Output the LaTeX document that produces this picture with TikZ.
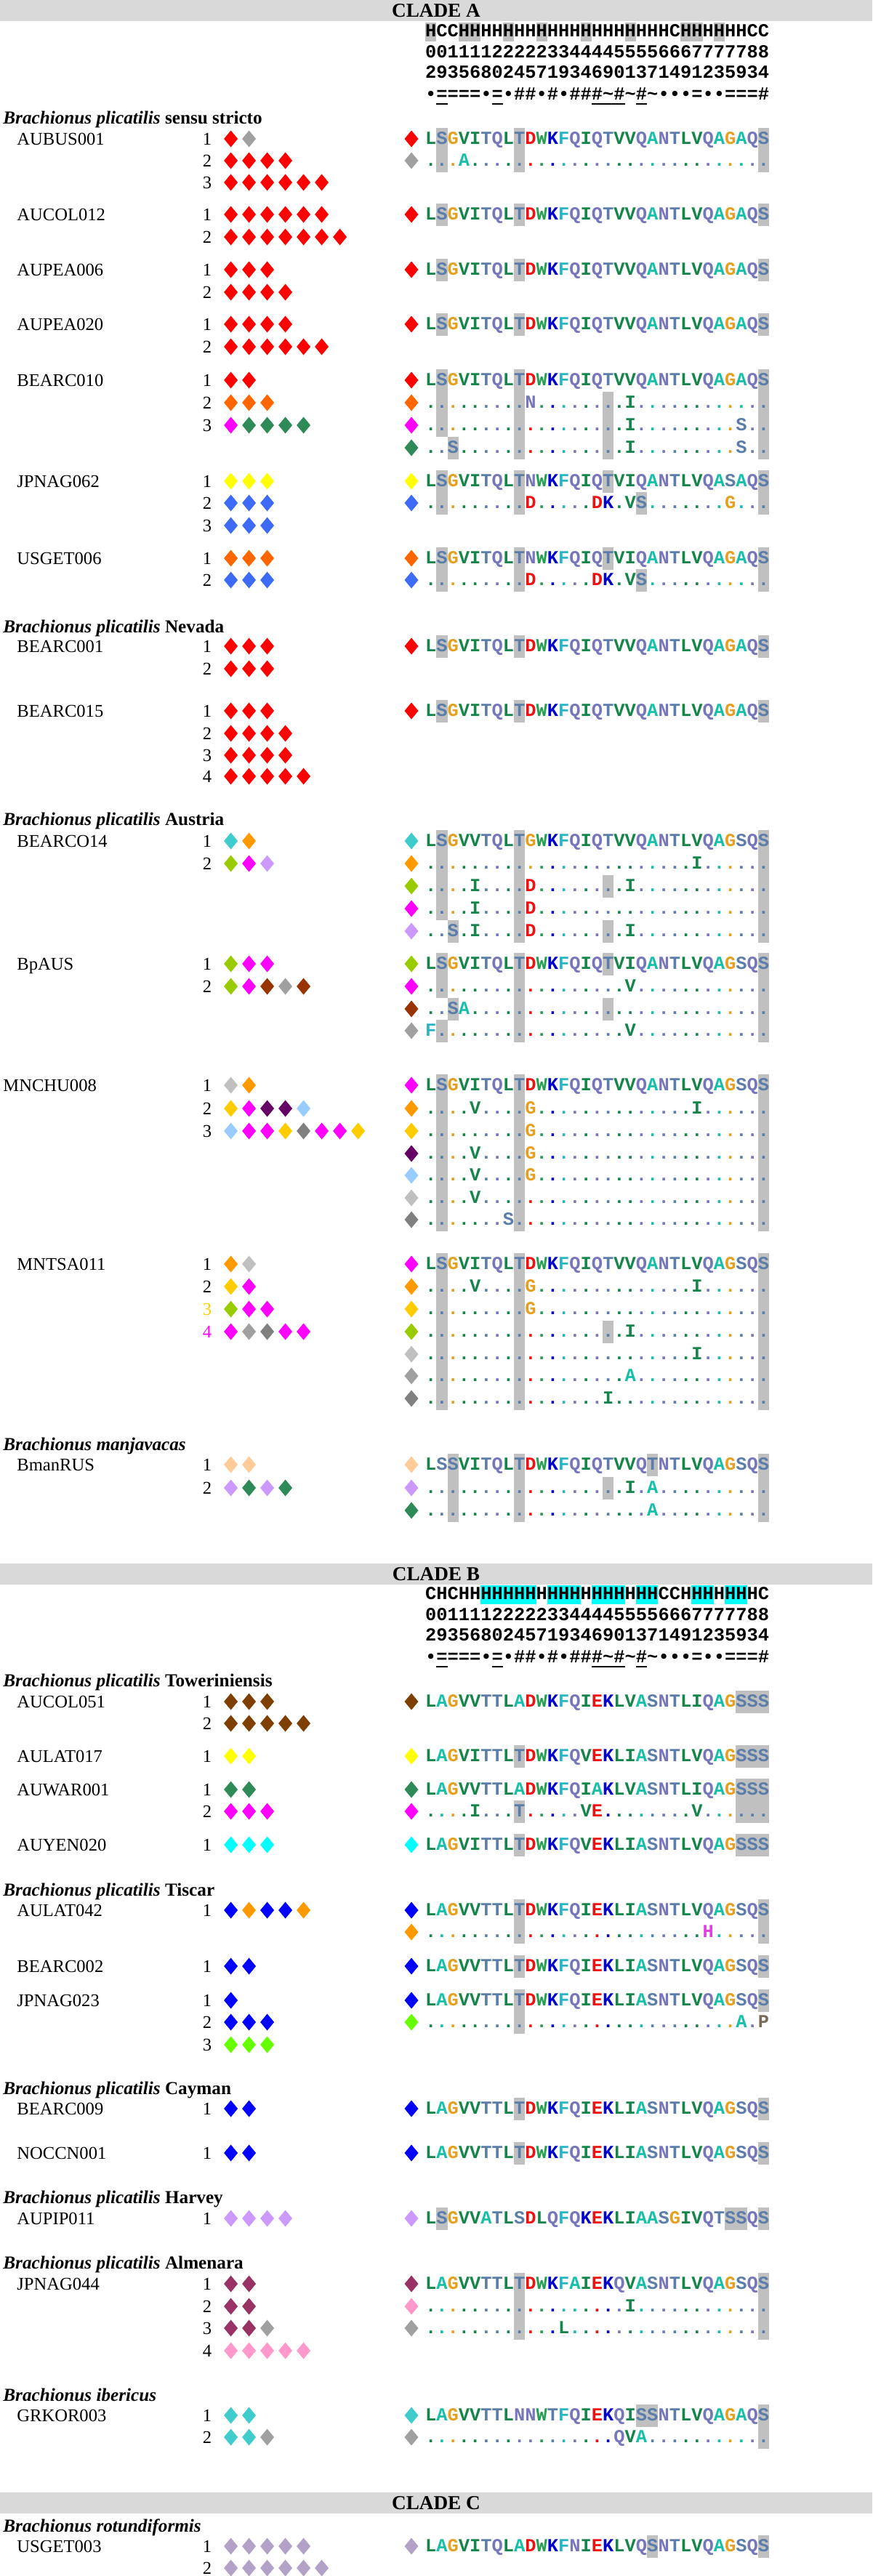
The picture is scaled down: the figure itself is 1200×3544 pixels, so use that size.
\documentclass[tikz,border=0pt]{standalone}
\usepackage{fontspec}
\setmainfont{Liberation Serif}
\newfontfamily\monofont{Liberation Mono}
\usepackage{xstring}
\usepackage{tikz}
\usetikzlibrary{positioning}

% residue colours
\definecolor{resL}{HTML}{15854A}\colorlet{resV}{resL}\colorlet{resI}{resL}\colorlet{resM}{resL}
\definecolor{resW}{HTML}{22A050}
\definecolor{resS}{HTML}{5A7DAA}\colorlet{resT}{resS}
\definecolor{resG}{HTML}{E6A020}
\definecolor{resQ}{HTML}{7676BC}\colorlet{resN}{resQ}
\definecolor{resD}{HTML}{EE1111}\colorlet{resE}{resD}
\definecolor{resK}{HTML}{0000CC}
\definecolor{resF}{HTML}{28B4C4}
\definecolor{resA}{HTML}{14C0A8}
\definecolor{resH}{HTML}{E040E0}
\definecolor{resP}{HTML}{7A6A58}
% haplotype colours
\definecolor{gRed}{HTML}{FF0000}
\definecolor{gGray}{HTML}{A0A0A0}
\definecolor{gOrange}{HTML}{FF6600}
\definecolor{gMagenta}{HTML}{FF00FF}
\definecolor{gSea}{HTML}{2E8B57}
\definecolor{gYellow}{HTML}{FFFF00}
\definecolor{gRoyal}{HTML}{3D6BF5}
\definecolor{gTurq}{HTML}{40CCCC}
\definecolor{gAmber}{HTML}{FF9900}
\definecolor{gLime}{HTML}{99CC00}
\definecolor{gLavender}{HTML}{CC99FF}
\definecolor{gBrown}{HTML}{993300}
\definecolor{gLgray}{HTML}{C0C0C0}
\definecolor{gGold}{HTML}{FFCC00}
\definecolor{gPurple}{HTML}{660066}
\definecolor{gSky}{HTML}{99CCFF}
\definecolor{gDgray}{HTML}{808080}
\definecolor{gPeach}{HTML}{FFCC99}
\definecolor{gChoc}{HTML}{7F3F00}
\definecolor{gCyan}{HTML}{00FFFF}
\definecolor{gBlue}{HTML}{0000FF}
\definecolor{gGreen}{HTML}{66FF00}
\definecolor{gMaroon}{HTML}{993366}
\definecolor{gPink}{HTML}{FF99CC}
\definecolor{gLilac}{HTML}{B3A2C7}
\definecolor{barbg}{HTML}{D9D9D9}
\definecolor{hlgray}{HTML}{C0C0C0}
\definecolor{hlcyan}{HTML}{00FFFF}

\newcommand\seqfont{\monofont\bfseries\fontsize{12.7}{14}\selectfont}
\newcommand\isofont{\fontsize{12.3}{14}\selectfont}
\newcommand\specfont{\bfseries\fontsize{12.6}{14}\selectfont}
\newcommand\cladefont{\bfseries\fontsize{13.6}{15}\selectfont}

\tikzset{
  res/.style={font=\seqfont, text=res#1, inner sep=0pt, anchor=base},
  hdr/.style={font=\seqfont, inner sep=0pt, anchor=base},
  isolate/.style={font=\isofont, inner sep=0pt, anchor=base west},
  species/.style={font=\specfont, inner sep=0pt, anchor=base west},
  rownum/.style={font=\isofont, inner sep=0pt, anchor=base},
  cladename/.style={font=\cladefont, inner sep=0pt},
  gem/.pic={\fill (0,-11.5) -- (9.5,0) -- (0,11.5) -- (-9.5,0) -- cycle;},
}

\def\refA{LSGVITQLTDWKFQIQTVVQANTLVQAGAQS}
\def\refJP{LSGVITQLTNWKFQIQTVIQANTLVQASAQS}
\def\refUS{LSGVITQLTNWKFQIQTVIQANTLVQAGAQS}
\def\refBE{LSGVVTQLTGWKFQIQTVVQANTLVQAGSQS}
\def\refBp{LSGVITQLTDWKFQIQTVIQANTLVQAGSQS}
\def\refMN{LSGVITQLTDWKFQIQTVVQANTLVQAGSQS}
\def\refMan{LSSVITQLTDWKFQIQTVVQTNTLVQAGSQS}
\def\refTw{LAGVVTTLADWKFQIEKLVASNTLIQAGSSS}
\def\refLa{LAGVITTLTDWKFQVEKLIASNTLVQAGSSS}
\def\refWa{LAGVVTTLADWKFQIAKLVASNTLIQAGSSS}
\def\refTi{LAGVVTTLTDWKFQIEKLIASNTLVQAGSQS}
\def\refHa{LSGVVATLSDLQFQKEKLIAASGIVQTSSQS}
\def\refAl{LAGVVTTLTDWKFAIEKQVASNTLVQAGSQS}
\def\refIb{LAGVVTTLNNWTFQIEKQISSNTLVQAGAQS}
\def\refRo{LAGVITQLADWKFNIEKLVQSNTLVQAGSQS}

% column centre
\newcommand\colx[1]{577.4+15.26*#1}
% full sequence
\newcommand\refrow[2]{\foreach \i in {1,...,31}{\StrChar{#2}{\i}[\resch]\node[res=\resch] at ({\colx{\i}},{#1+7}) {\resch};}}
% dots with changes col/residue
\newcommand\mutrow[3]{%
  \foreach \i in {1,...,31}{\IfSubStr{,#3}{,\i/}{}{\StrChar{#2}{\i}[\resch]\node[res=\resch] at ({\colx{\i}},{#1+7}) {.};}}
  \foreach \p/\m in {#3}{\node[res=\m] at ({\colx{\p}},{#1+7}) {\m};}}
% grey column box
\newcommand\hl[4]{\fill[hlgray] ({585+15.26*(#1-1)},{#3-15.5}) rectangle ({585+15.26*#2},{#4+15.5});}
% haplotype number and diamonds
\newcommand\hap[3]{\node[rownum] at (285,{#1+8}) {#2};
  \foreach \c [count=\k] in {#3} \pic[fill=\c] at ({292.6+25*\k},#1) {gem};}
\newcommand\seqgem[2]{\pic[fill=#2] at (566,#1) {gem};}
% header block
\newcommand\hdrblock[4]{%
  \foreach \a/\b in {#4} \fill[#3] ({585+15.26*(\a-1)},{#1-12}) rectangle ({585+15.26*\b},{#1+14});
  \foreach \i in {1,...,31}{\IfSubStr{,#2,}{,\i,}{\def\resch{C}}{\def\resch{H}}\node[hdr] at ({\colx{\i}},{#1+7}) {\resch};}
  \foreach \i in {1,...,31}{\StrChar{0011112222233444455556667777788}{\i}[\resch]\node[hdr] at ({\colx{\i}},{#1+36}) {\resch};
    \StrChar{2935680245719346901371491235934}{\i}[\resch]\node[hdr] at ({\colx{\i}},{#1+64}) {\resch};}
  \foreach \s [count=\i] in {•,=,=,=,=,•,=,•,\#,\#,•,\#,•,\#,\#,\#,\textasciitilde,\#,\textasciitilde,\#,\textasciitilde,•,•,•,=,•,•,=,=,=,\#}
    \node[hdr] at ({\colx{\i}},{#1+94}) {\s};
  \foreach \a/\b in {2/2,7/7,16/18,20/20} \draw[line width=1pt] ({585+15.26*(\a-1)},{#1+100}) -- ({585+15.26*\b},{#1+100});}

\begin{document}
\begin{tikzpicture}[x=0.5pt,y=-0.5pt]
\useasboundingbox (0,0) rectangle (1200,3544);

% ---------------- CLADE A
\fill[barbg] (0,0) rectangle (1200,29);
\node[cladename] (cladeA) at (600,15) {CLADE A};
\hdrblock{43}{2,3,23,30,31}{hlgray}{1/1,4/5,8/8,11/11,15/15,19/19,24/25,27/27}

\node[species] (ssstricto) at (4,170) {\textit{Brachionus plicatilis} sensu stricto};
% AUBUS001
\hl{2}{2}{191}{221}\hl{9}{9}{191}{221}\hl{31}{31}{191}{221}
\node[isolate] (aubus) at (23,199) {AUBUS001};
\hap{191}{1}{gRed,gGray}
\hap{221}{2}{gRed,gRed,gRed,gRed}
\hap{251}{3}{gRed,gRed,gRed,gRed,gRed,gRed}
\seqgem{191}{gRed}\refrow{191}{\refA}
\seqgem{221}{gGray}\mutrow{221}{\refA}{4/A}
% AUCOL012
\hl{2}{2}{295}{295}\hl{9}{9}{295}{295}\hl{31}{31}{295}{295}
\node[isolate] (aucol) at (23,303) {AUCOL012};
\hap{295}{1}{gRed,gRed,gRed,gRed,gRed,gRed}
\hap{326}{2}{gRed,gRed,gRed,gRed,gRed,gRed,gRed}
\seqgem{295}{gRed}\refrow{295}{\refA}
% AUPEA006
\hl{2}{2}{371}{371}\hl{9}{9}{371}{371}\hl{31}{31}{371}{371}
\node[isolate] (aupea6) at (23,379) {AUPEA006};
\hap{371}{1}{gRed,gRed,gRed}
\hap{402}{2}{gRed,gRed,gRed,gRed}
\seqgem{371}{gRed}\refrow{371}{\refA}
% AUPEA020
\hl{2}{2}{446}{446}\hl{9}{9}{446}{446}\hl{31}{31}{446}{446}
\node[isolate] (aupea20) at (23,454) {AUPEA020};
\hap{446}{1}{gRed,gRed,gRed,gRed}
\hap{477}{2}{gRed,gRed,gRed,gRed,gRed,gRed}
\seqgem{446}{gRed}\refrow{446}{\refA}
% BEARC010
\hl{2}{2}{523}{585}\hl{3}{3}{616}{616}\hl{9}{9}{523}{616}\hl{17}{17}{554}{616}\hl{31}{31}{523}{616}
\node[isolate] (bearc10) at (23,531) {BEARC010};
\hap{523}{1}{gRed,gRed}
\hap{554}{2}{gOrange,gOrange,gOrange}
\hap{585}{3}{gMagenta,gSea,gSea,gSea,gSea}
\seqgem{523}{gRed}\refrow{523}{\refA}
\seqgem{554}{gOrange}\mutrow{554}{\refA}{10/N,19/I}
\seqgem{585}{gMagenta}\mutrow{585}{\refA}{19/I,29/S}
\seqgem{616}{gSea}\mutrow{616}{\refA}{3/S,19/I,29/S}
% JPNAG062
\hl{2}{2}{662}{692}\hl{9}{9}{662}{692}\hl{17}{17}{662}{662}\hl{20}{20}{692}{692}\hl{31}{31}{662}{692}
\node[isolate] (jpnag62) at (23,670) {JPNAG062};
\hap{662}{1}{gYellow,gYellow,gYellow}
\hap{692}{2}{gRoyal,gRoyal,gRoyal}
\hap{723}{3}{gRoyal,gRoyal,gRoyal}
\seqgem{662}{gYellow}\refrow{662}{\refJP}
\seqgem{692}{gRoyal}\mutrow{692}{\refJP}{10/D,16/D,17/K,19/V,20/S,28/G}
% USGET006
\hl{2}{2}{768}{798}\hl{9}{9}{768}{798}\hl{17}{17}{768}{768}\hl{20}{20}{798}{798}\hl{31}{31}{768}{798}
\node[isolate] (usget6) at (23,776) {USGET006};
\hap{768}{1}{gOrange,gOrange,gOrange}
\hap{798}{2}{gRoyal,gRoyal,gRoyal}
\seqgem{768}{gOrange}\refrow{768}{\refUS}
\seqgem{798}{gRoyal}\mutrow{798}{\refUS}{10/D,16/D,17/K,19/V,20/S}

\node[species] (nevada) at (4,870) {\textit{Brachionus plicatilis} Nevada};
% BEARC001
\hl{2}{2}{889}{889}\hl{9}{9}{889}{889}\hl{31}{31}{889}{889}
\node[isolate] (bearc1) at (23,897) {BEARC001};
\hap{889}{1}{gRed,gRed,gRed}
\hap{920}{2}{gRed,gRed,gRed}
\seqgem{889}{gRed}\refrow{889}{\refA}
% BEARC015
\hl{2}{2}{978}{978}\hl{9}{9}{978}{978}\hl{31}{31}{978}{978}
\node[isolate] (bearc15) at (23,986) {BEARC015};
\hap{978}{1}{gRed,gRed,gRed}
\hap{1009}{2}{gRed,gRed,gRed,gRed}
\hap{1039}{3}{gRed,gRed,gRed,gRed}
\hap{1068}{4}{gRed,gRed,gRed,gRed,gRed}
\seqgem{978}{gRed}\refrow{978}{\refA}

\node[species] (austria) at (4,1135) {\textit{Brachionus plicatilis} Austria};
% BEARCO14
\hl{2}{2}{1157}{1250}\hl{3}{3}{1281}{1281}\hl{9}{9}{1157}{1281}\hl{17}{17}{1219}{1219}\hl{17}{17}{1281}{1281}\hl{31}{31}{1157}{1281}
\node[isolate] (bearc14) at (23,1165) {BEARCO14};
\hap{1157}{1}{gTurq,gAmber}
\hap{1188}{2}{gLime,gMagenta,gLavender}
\seqgem{1157}{gTurq}\refrow{1157}{\refBE}
\seqgem{1188}{gAmber}\mutrow{1188}{\refBE}{25/I}
\seqgem{1219}{gLime}\mutrow{1219}{\refBE}{5/I,10/D,19/I}
\seqgem{1250}{gMagenta}\mutrow{1250}{\refBE}{5/I,10/D}
\seqgem{1281}{gLavender}\mutrow{1281}{\refBE}{3/S,5/I,10/D,19/I}
% BpAUS
\hl{2}{2}{1326}{1357}\hl{3}{3}{1388}{1388}\hl{2}{2}{1418}{1418}\hl{9}{9}{1326}{1418}\hl{17}{17}{1326}{1326}\hl{17}{17}{1388}{1388}\hl{31}{31}{1326}{1418}
\node[isolate] (bpaus) at (23,1334) {BpAUS};
\hap{1326}{1}{gLime,gMagenta,gMagenta}
\hap{1357}{2}{gLime,gMagenta,gBrown,gGray,gBrown}
\seqgem{1326}{gLime}\refrow{1326}{\refBp}
\seqgem{1357}{gMagenta}\mutrow{1357}{\refBp}{19/V}
\seqgem{1388}{gBrown}\mutrow{1388}{\refBp}{3/S,4/A}
\seqgem{1418}{gGray}\mutrow{1418}{\refBp}{1/F,19/V}
% MNCHU008
\hl{2}{2}{1493}{1678}\hl{9}{9}{1493}{1678}\hl{31}{31}{1493}{1678}
\node[isolate] (mnchu) at (4,1501) {MNCHU008};
\hap{1493}{1}{gLgray,gAmber}
\hap{1525}{2}{gGold,gMagenta,gPurple,gPurple,gSky}
\hap{1556}{3}{gSky,gMagenta,gMagenta,gGold,gDgray,gMagenta,gMagenta,gGold}
\seqgem{1493}{gMagenta}\refrow{1493}{\refMN}
\seqgem{1525}{gAmber}\mutrow{1525}{\refMN}{5/V,10/G,25/I}
\seqgem{1556}{gGold}\mutrow{1556}{\refMN}{10/G}
\seqgem{1587}{gPurple}\mutrow{1587}{\refMN}{5/V,10/G}
\seqgem{1617}{gSky}\mutrow{1617}{\refMN}{5/V,10/G}
\seqgem{1648}{gLgray}\mutrow{1648}{\refMN}{5/V}
\seqgem{1678}{gDgray}\mutrow{1678}{\refMN}{8/S}
% MNTSA011
\hl{2}{2}{1739}{1924}\hl{9}{9}{1739}{1924}\hl{17}{17}{1832}{1832}\hl{31}{31}{1739}{1924}
\node[isolate] (mntsa) at (23,1747) {MNTSA011};
\hap{1739}{1}{gAmber,gLgray}
\hap{1770}{2}{gGold,gMagenta}
\hap{1801}{\textcolor{gGold}{3}}{gLime,gMagenta,gMagenta}
\hap{1832}{\textcolor{gMagenta}{4}}{gMagenta,gGray,gDgray,gMagenta,gMagenta}
\seqgem{1739}{gMagenta}\refrow{1739}{\refMN}
\seqgem{1770}{gAmber}\mutrow{1770}{\refMN}{5/V,10/G,25/I}
\seqgem{1801}{gGold}\mutrow{1801}{\refMN}{10/G}
\seqgem{1832}{gLime}\mutrow{1832}{\refMN}{19/I}
\seqgem{1863}{gLgray}\mutrow{1863}{\refMN}{25/I}
\seqgem{1893}{gGray}\mutrow{1893}{\refMN}{19/A}
\seqgem{1924}{gDgray}\mutrow{1924}{\refMN}{17/I}

\node[species] (manja) at (4,1995) {\textit{Brachionus manjavacas}};
% BmanRUS
\hl{3}{3}{2015}{2078}\hl{9}{9}{2015}{2078}\hl{21}{21}{2015}{2015}\hl{17}{17}{2047}{2047}\hl{31}{31}{2015}{2078}
\node[isolate] (bmanrus) at (23,2023) {BmanRUS};
\hap{2015}{1}{gPeach,gPeach}
\hap{2047}{2}{gLavender,gSea,gLavender,gSea}
\seqgem{2015}{gPeach}\refrow{2015}{\refMan}
\seqgem{2047}{gLavender}\mutrow{2047}{\refMan}{19/I,21/A}
\seqgem{2078}{gSea}\mutrow{2078}{\refMan}{21/A}

% ---------------- CLADE B
\fill[barbg] (0,2151) rectangle (1200,2180);
\node[cladename] (cladeB) at (600,2166) {CLADE B};
\hdrblock{2193}{1,3,22,23,31}{hlcyan}{6/10,12/14,16/18,20/21,25/26,28/29}

\node[species] (tower) at (4,2320) {\textit{Brachionus plicatilis} Toweriniensis};
% AUCOL051
\hl{29}{31}{2341}{2341}
\node[isolate] (aucol51) at (23,2349) {AUCOL051};
\hap{2341}{1}{gChoc,gChoc,gChoc}
\hap{2371}{2}{gChoc,gChoc,gChoc,gChoc,gChoc}
\seqgem{2341}{gChoc}\refrow{2341}{\refTw}
% AULAT017
\hl{9}{9}{2416}{2416}\hl{29}{31}{2416}{2416}
\node[isolate] (aulat17) at (23,2424) {AULAT017};
\hap{2416}{1}{gYellow,gYellow}
\seqgem{2416}{gYellow}\refrow{2416}{\refLa}
% AUWAR001
\hl{29}{31}{2462}{2492}\hl{9}{9}{2492}{2492}
\node[isolate] (auwar) at (23,2470) {AUWAR001};
\hap{2462}{1}{gSea,gSea}
\hap{2492}{2}{gMagenta,gMagenta,gMagenta}
\seqgem{2462}{gSea}\refrow{2462}{\refWa}
\seqgem{2492}{gMagenta}\mutrow{2492}{\refWa}{5/I,9/T,15/V,16/E,25/V}
% AUYEN020
\hl{9}{9}{2538}{2538}\hl{29}{31}{2538}{2538}
\node[isolate] (auyen) at (23,2546) {AUYEN020};
\hap{2538}{1}{gCyan,gCyan,gCyan}
\seqgem{2538}{gCyan}\refrow{2538}{\refLa}

\node[species] (tiscar) at (4,2608) {\textit{Brachionus plicatilis} Tiscar};
% AULAT042
\hl{9}{9}{2628}{2658}\hl{31}{31}{2628}{2658}
\node[isolate] (aulat42) at (23,2636) {AULAT042};
\hap{2628}{1}{gBlue,gAmber,gBlue,gBlue,gAmber}
\seqgem{2628}{gBlue}\refrow{2628}{\refTi}
\seqgem{2658}{gAmber}\mutrow{2658}{\refTi}{26/H}
% BEARC002
\hl{9}{9}{2705}{2705}\hl{31}{31}{2705}{2705}
\node[isolate] (bearc2) at (23,2713) {BEARC002};
\hap{2705}{1}{gBlue,gBlue}
\seqgem{2705}{gBlue}\refrow{2705}{\refTi}
% JPNAG023
\hl{9}{9}{2752}{2782}\hl{31}{31}{2752}{2752}
\node[isolate] (jpnag23) at (23,2760) {JPNAG023};
\hap{2752}{1}{gBlue}
\hap{2782}{2}{gBlue,gBlue,gBlue}
\hap{2813}{3}{gGreen,gGreen,gGreen}
\seqgem{2752}{gBlue}\refrow{2752}{\refTi}
\seqgem{2782}{gGreen}\mutrow{2782}{\refTi}{29/A,31/P}

\node[species] (cayman) at (4,2881) {\textit{Brachionus plicatilis} Cayman};
% BEARC009
\hl{9}{9}{2901}{2901}\hl{31}{31}{2901}{2901}
\node[isolate] (bearc9) at (23,2909) {BEARC009};
\hap{2901}{1}{gBlue,gBlue}
\seqgem{2901}{gBlue}\refrow{2901}{\refTi}
% NOCCN001
\hl{9}{9}{2962}{2962}\hl{31}{31}{2962}{2962}
\node[isolate] (noccn) at (23,2970) {NOCCN001};
\hap{2962}{1}{gBlue,gBlue}
\seqgem{2962}{gBlue}\refrow{2962}{\refTi}

\node[species] (harvey) at (4,3031) {\textit{Brachionus plicatilis} Harvey};
% AUPIP011
\hl{2}{2}{3052}{3052}\hl{28}{29}{3052}{3052}\hl{31}{31}{3052}{3052}
\node[isolate] (aupip) at (23,3060) {AUPIP011};
\hap{3052}{1}{gLavender,gLavender,gLavender,gLavender}
\seqgem{3052}{gLavender}\refrow{3052}{\refHa}

\node[species] (almenara) at (4,3121) {\textit{Brachionus plicatilis} Almenara};
% JPNAG044
\hl{9}{9}{3142}{3203}\hl{31}{31}{3142}{3203}
\node[isolate] (jpnag44) at (23,3150) {JPNAG044};
\hap{3142}{1}{gMaroon,gMaroon}
\hap{3173}{2}{gMaroon,gMaroon}
\hap{3203}{3}{gMaroon,gMaroon,gGray}
\hap{3234}{4}{gPink,gPink,gPink,gPink,gPink}
\seqgem{3142}{gMaroon}\refrow{3142}{\refAl}
\seqgem{3173}{gPink}\mutrow{3173}{\refAl}{19/I}
\seqgem{3203}{gGray}\mutrow{3203}{\refAl}{13/L}

\node[species] (iberic) at (4,3303) {\textit{Brachionus ibericus}};
% GRKOR003
\hl{20}{21}{3323}{3323}\hl{31}{31}{3323}{3353}
\node[isolate] (grkor) at (23,3331) {GRKOR003};
\hap{3323}{1}{gTurq,gTurq}
\hap{3353}{2}{gTurq,gTurq,gGray}
\seqgem{3323}{gTurq}\refrow{3323}{\refIb}
\seqgem{3353}{gGray}\mutrow{3353}{\refIb}{18/Q,19/V,20/A}

% ---------------- CLADE C
\fill[barbg] (0,3429) rectangle (1200,3458);
\node[cladename] (cladeC) at (600,3444) {CLADE C};
\node[species] (rotund) at (4,3483) {\textit{Brachionus rotundiformis}};
% USGET003
\hl{21}{21}{3503}{3503}\hl{31}{31}{3503}{3503}
\node[isolate] (usget3) at (23,3511) {USGET003};
\hap{3503}{1}{gLilac,gLilac,gLilac,gLilac,gLilac}
\hap{3533}{2}{gLilac,gLilac,gLilac,gLilac,gLilac,gLilac}
\seqgem{3503}{gLilac}\refrow{3503}{\refRo}
\end{tikzpicture}
\end{document}
